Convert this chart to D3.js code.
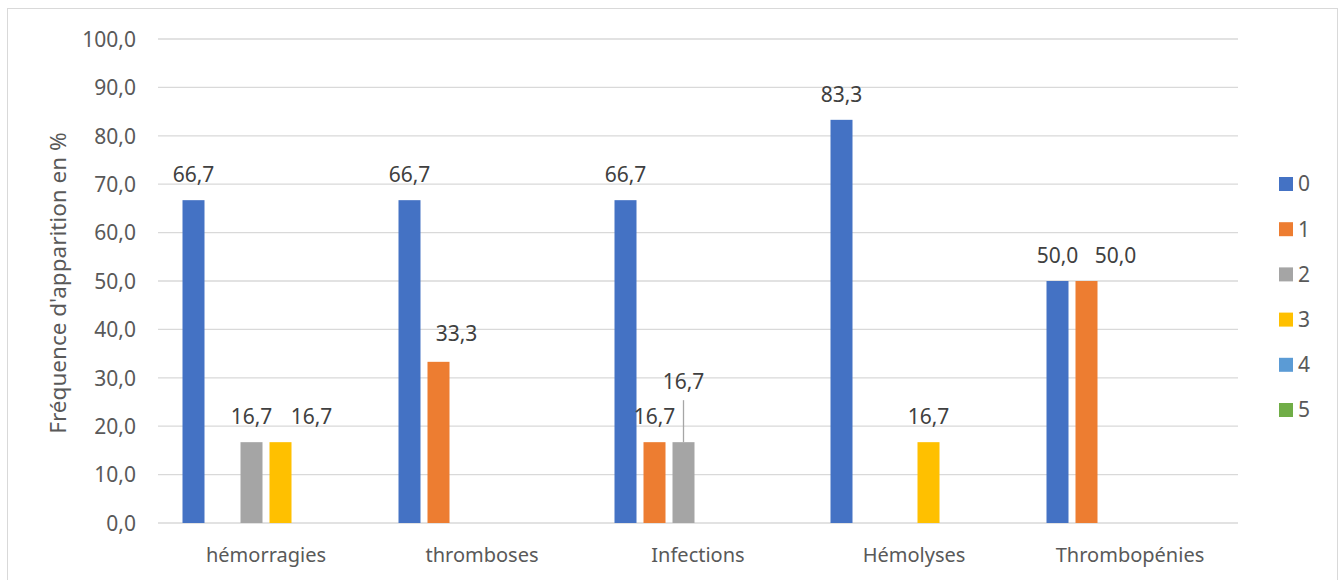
<!DOCTYPE html>
<html><head><meta charset="utf-8">
<script src="https://cdn.jsdelivr.net/npm/d3@7"></script>
<style>body{margin:0;background:#fff}text{font-family:"Noto Sans",sans-serif}</style>
</head><body><svg id="c" width="1341" height="580"></svg>
<script>
const categories = ["hémorragies","thromboses","Infections","Hémolyses","Thrombopénies"];
const seriesNames = ["0","1","2","3","4","5"];
const s0 = [66.7,66.7,66.7,83.3,50.0];
const s1 = [0,33.3,16.7,0,50.0];
const s2 = [16.7,0,16.7,0,0];
const s3 = [16.7,0,0,16.7,0];
const s4 = [0,0,0,0,0];
const s5 = [0,0,0,0,0];
const yTicks = [0,10,20,30,40,50,60,70,80,90,100];
const colors = ["#4472C4","#ED7D31","#A5A5A5","#FFC000","#5B9BD5","#70AD47"];
const series = [s0,s1,s2,s3,s4,s5];
// manually moved data labels (category|series -> [dx, dy])
const labelMoves = {"hémorragies|3":[31,0],"thromboses|1":[18,-3],"Thrombopénies|1":[29,0],"Infections|2":[0,-35]};

const svg = d3.select("#c");
svg.append("rect").attr("x",7.5).attr("y",8.5).attr("width",1330).attr("height",600)
  .attr("fill","none").attr("stroke","#d9d9d9").attr("stroke-width",1);

const L=158,R=1238,T=39,B=523;
const x = d3.scaleBand().domain(categories).range([L,R]).paddingInner(0).paddingOuter(0);
const xs = d3.scaleBand().domain(seriesNames).range([21,x.bandwidth()-21]).paddingInner(7/29).paddingOuter(3.5/29);
const y = d3.scaleLinear().domain([0,100]).range([B,T]);
const fmt = v => d3.format(".1f")(v).replace(".",",");

// grid
svg.append("g").selectAll("line").data(yTicks).join("line")
  .attr("x1",L).attr("x2",R).attr("y1",d=>y(d)).attr("y2",d=>y(d))
  .attr("stroke","#d9d9d9").attr("stroke-width",1.3);

const yAxis = d3.axisLeft(y).tickValues(yTicks).tickFormat(fmt).tickSize(0).tickPadding(0);
const gy = svg.append("g").attr("transform",`translate(${L-22},0)`).call(yAxis);
gy.select(".domain").remove();
gy.selectAll("text").attr("fill","#595959").style("font-size","21px").attr("dy","0.35em");

const xAxis = d3.axisBottom(x).tickSize(0).tickPadding(0);
const gx = svg.append("g").attr("transform",`translate(0,562)`).call(xAxis);
gx.select(".domain").remove();
gx.selectAll("text").attr("fill","#595959").style("font-size","20px").attr("dy","0");

// bars
const data = [];
categories.forEach((c,i)=>series.forEach((s,j)=>{ if(s[i]>0) data.push({c,k:seriesNames[j],v:s[i],j}); }));
svg.append("g").selectAll("rect").data(data).join("rect")
  .attr("x",d=>x(d.c)+xs(d.k)).attr("width",xs.bandwidth())
  .attr("y",d=>y(d.v)).attr("height",d=>B-y(d.v)).attr("fill",d=>colors[d.j]);

// labels
const lab = svg.append("g");
data.forEach(d=>{
  const cx = x(d.c)+xs(d.k)+xs.bandwidth()/2;
  const mv = labelMoves[d.c+"|"+d.k] || [0,0];
  const ty = y(d.v)-18+mv[1];
  if(mv[1] < -20){
    lab.append("line").attr("x1",cx).attr("x2",cx).attr("y1",ty+11).attr("y2",y(d.v))
      .attr("stroke","#a6a6a6").attr("stroke-width",1.3);
  }
  lab.append("text").attr("x",cx+mv[0]).attr("y",ty).attr("text-anchor","middle")
    .attr("fill","#404040").style("font-size","21px").text(fmt(d.v));
});

// y title
svg.append("text").attr("transform","translate(58,283) rotate(-90)").attr("text-anchor","middle")
  .attr("dy","0.35em").attr("fill","#595959").style("font-size","22.5px").text("Fréquence d'apparition en %");

// legend
const ly = d3.scalePoint().domain(seriesNames).range([184,410]);
const lg = svg.append("g").selectAll("g").data(seriesNames).join("g")
  .attr("transform",d=>`translate(1279,${ly(d)})`);
lg.append("rect").attr("x",0).attr("y",-7).attr("width",14).attr("height",14).attr("fill",(d,i)=>colors[i]);
lg.append("text").attr("x",19).attr("dy","0.35em").attr("fill","#595959").style("font-size","21px").text(d=>d);
</script></body></html>
